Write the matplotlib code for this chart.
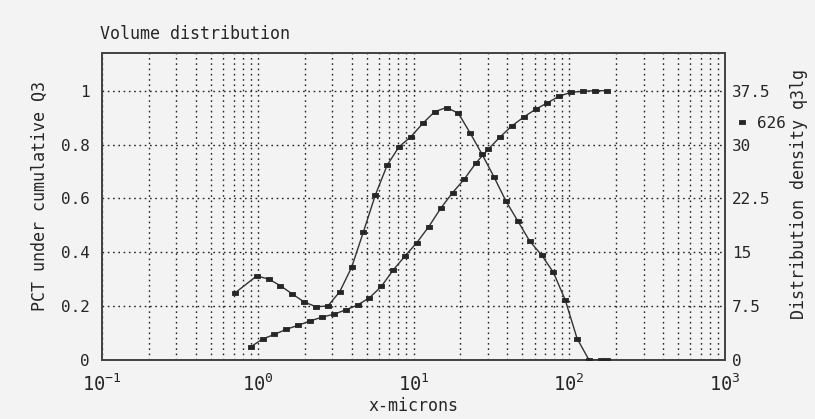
import matplotlib
matplotlib.use('Agg')
import matplotlib.pyplot as plt
from matplotlib.lines import Line2D
from matplotlib.ticker import FixedLocator, FixedFormatter, NullFormatter

# ---- data ----
cum_x = [0.902, 1.075, 1.28, 1.526, 1.819, 2.168, 2.584, 3.079, 3.669, 4.373,
         5.212, 6.212, 7.403, 8.823, 10.51, 12.53, 14.94, 17.80, 21.21, 25.28,
         30.13, 35.91, 42.80, 51.01, 60.78, 72.44, 86.34, 102.9, 122.6, 146.2, 174.2]
cum_q3 = [0.049, 0.078, 0.095, 0.114, 0.129, 0.145, 0.159, 0.170, 0.186, 0.204,
          0.231, 0.273, 0.334, 0.386, 0.436, 0.495, 0.563, 0.621, 0.672, 0.733,
          0.782, 0.828, 0.869, 0.902, 0.931, 0.955, 0.980, 0.994, 0.998, 1.0, 1.0]

dens_x = [0.714, 0.984, 1.173, 1.398, 1.666, 1.986, 2.367, 2.820, 3.361, 4.006,
          4.774, 5.690, 6.782, 8.082, 9.632, 11.48, 13.68, 16.31, 19.43, 23.16,
          27.60, 32.89, 39.20, 46.72, 55.68, 66.36, 79.09, 94.26, 112.3, 133.9,
          159.8, 174.6]
dens_q3lg = [9.33, 11.70, 11.28, 10.35, 9.19, 8.08, 7.42, 7.52, 9.51, 12.91,
             17.87, 22.98, 27.15, 29.70, 31.10, 32.96, 34.58, 35.16, 34.35, 31.57,
             28.62, 25.48, 22.14, 19.36, 16.57, 14.62, 12.21, 8.35, 2.99, 0.0,
             0.0, 0.0]

x_ticks = [0.1, 1, 10, 100, 1000]
x_tick_labels = [r'$\mathregular{10^{-1}}$', r'$\mathregular{10^{0}}$', r'$\mathregular{10^{1}}$',
                 r'$\mathregular{10^{2}}$', r'$\mathregular{10^{3}}$']
left_ticks = [0, 0.2, 0.4, 0.6, 0.8, 1.0]
left_tick_labels = ['0', '0.2', '0.4', '0.6', '0.8', '1']
right_ticks = [0, 7.5, 15, 22.5, 30, 37.5]
right_tick_labels = ['0', '7.5', '15', '22.5', '30', '37.5']
legend_label = '626'

# ---- style ----
plt.rcParams['font.family'] = ['DejaVu Sans Mono']
plt.rcParams['mathtext.fontset'] = 'dejavusans'
ink = '#262626'
bg = '#f3f3f3'
fs = 11.5

fig = plt.figure(figsize=(8.15, 4.19), dpi=100, facecolor=bg)
ax = fig.add_axes([102/815, 1-360/419, (725-102)/815, (360-53)/419])
ax.set_facecolor(bg)
ax2 = ax.twinx()

ax.set_xscale('log')
ax.set_xlim(0.1, 1000)
ax.set_ylim(0, 1.14)
ax2.set_ylim(0, 1.14*37.5)

ax.xaxis.set_major_locator(FixedLocator(x_ticks))
ax.xaxis.set_major_formatter(FixedFormatter(x_tick_labels))
minor = [m*10.0**e for e in range(-1, 3) for m in range(2, 10)]
ax.xaxis.set_minor_locator(FixedLocator(minor))
ax.xaxis.set_minor_formatter(NullFormatter())
ax.set_yticks(left_ticks)
ax.set_yticklabels(left_tick_labels)
ax2.set_yticks(right_ticks)
ax2.set_yticklabels(right_tick_labels)

grid_style = dict(color=ink, linestyle=(0, (1.2, 2.6)), linewidth=1.0)
ax.grid(True, which='major', axis='both', **grid_style)
ax.grid(True, which='minor', axis='x', **grid_style)
ax.set_axisbelow(True)

ax.tick_params(axis='both', which='both', length=0, colors=ink, labelsize=fs)
ax.tick_params(axis='y', pad=9)
ax.tick_params(axis='x', pad=10, labelsize=13.5)
ax2.tick_params(axis='y', length=0, colors=ink, labelsize=fs, pad=5)

for a in (ax, ax2):
    for s in a.spines.values():
        s.set_color('#444444')
        s.set_linewidth(1.3)

marker = [(-1, -0.62), (1, -0.62), (1, 0.62), (-1, 0.62), (-1, -0.62)]
mk = dict(marker=marker, markersize=5, markerfacecolor=ink, markeredgecolor=ink,
          markeredgewidth=0.6)
ax.plot(cum_x, cum_q3, color='#333333', linewidth=1.0, zorder=3, **mk)
ax2.plot(dens_x, dens_q3lg, color='#333333', linewidth=1.0, zorder=3, **mk)

fig.text(100/815, 1-34/419, 'Volume distribution', ha='left', va='center',
         fontsize=fs+0.5, color=ink)
ax.set_xlabel('x-microns', fontsize=fs+0.5, color=ink, labelpad=0)
ax.xaxis.set_label_coords(0.5, -0.12)
fig.text(40/815, 1-196/419, 'PCT under cumulative Q3', rotation=90, ha='center',
         va='center', fontsize=fs+0.5, color=ink)
fig.text(799/815, 1-194/419, 'Distribution density q3lg', rotation=90, ha='center',
         va='center', fontsize=fs+0.5, color=ink)

handle = Line2D([], [], linestyle='none', **mk)
fig.legend([handle], [legend_label], loc='center left',
           bbox_to_anchor=(728/815, 1-123/419), frameon=False, fontsize=fs,
           handlelength=0.8, handletextpad=0.5, borderpad=0, labelcolor=ink)

fig.savefig('out.png', dpi=100, facecolor=bg)
